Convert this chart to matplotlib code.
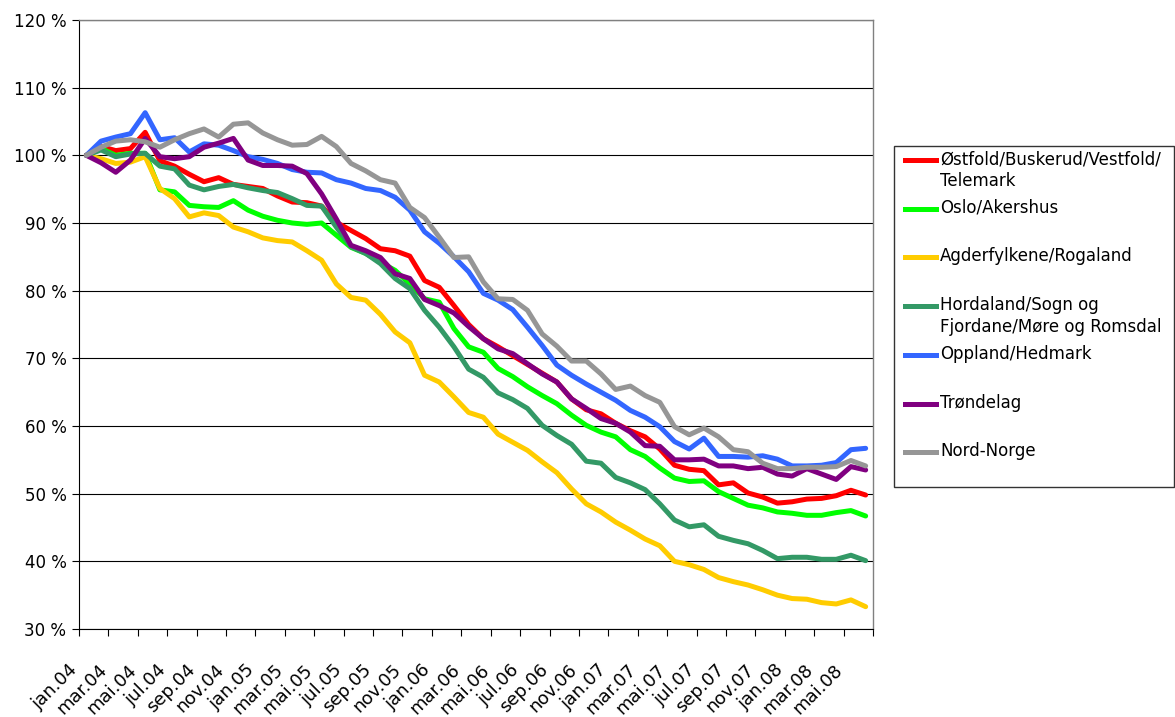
import numpy as np
import matplotlib.pyplot as plt
from matplotlib.lines import Line2D
from matplotlib.patches import Rectangle
from matplotlib.transforms import ScaledTranslation

# x-akse: en etikett for annenhver maaned, jan.04 - mai.08
maaneder = ["jan.04", "mar.04", "mai.04", "jul.04", "sep.04", "nov.04",
            "jan.05", "mar.05", "mai.05", "jul.05", "sep.05", "nov.05",
            "jan.06", "mar.06", "mai.06", "jul.06", "sep.06", "nov.06",
            "jan.07", "mar.07", "mai.07", "jul.07", "sep.07", "nov.07",
            "jan.08", "mar.08", "mai.08"]

ostfold = [100, 101.3, 100.7, 101.0, 103.4, 99.2, 98.4, 97.2, 96.1, 96.7,
           95.7, 95.4, 95.1, 94.0, 93.1, 93.0, 92.5, 90.1, 88.9, 87.7,
           86.2, 85.9, 85.1, 81.5, 80.5, 77.8, 75.0, 72.9, 71.7, 70.4,
           69.1, 67.8, 66.5, 64.0, 62.4, 61.8, 60.4, 59.3, 58.4, 56.6,
           54.2, 53.6, 53.4, 51.3, 51.6, 50.1, 49.5, 48.6, 48.8, 49.2,
           49.3, 49.7, 50.5, 49.8]
oslo = [100, 101.0, 100.0, 100.3, 100.3, 94.9, 94.6, 92.6, 92.4, 92.3,
        93.3, 91.9, 91.0, 90.4, 90.0, 89.8, 90.0, 88.2, 86.4, 85.5,
        84.2, 83.0, 81.0, 78.8, 78.3, 74.4, 71.7, 70.9, 68.5, 67.3,
        65.8, 64.5, 63.3, 61.6, 60.1, 59.1, 58.4, 56.5, 55.5, 53.8,
        52.3, 51.8, 51.9, 50.3, 49.3, 48.3, 47.9, 47.3, 47.1, 46.8,
        46.8, 47.2, 47.5, 46.7]
agder = [100, 99.5, 98.8, 99.0, 99.8, 95.1, 93.6, 90.9, 91.5, 91.1,
         89.4, 88.7, 87.8, 87.4, 87.2, 85.9, 84.5, 81.0, 79.0, 78.6,
         76.5, 73.9, 72.3, 67.5, 66.5, 64.3, 62.0, 61.3, 58.8, 57.6,
         56.4, 54.7, 53.1, 50.7, 48.5, 47.3, 45.8, 44.6, 43.3, 42.3,
         40.0, 39.5, 38.8, 37.6, 37.0, 36.5, 35.8, 35.0, 34.5, 34.4,
         33.9, 33.7, 34.3, 33.3]
hordaland = [100, 100.8, 99.8, 100.2, 100.3, 98.4, 98.0, 95.6, 94.9, 95.4,
             95.7, 95.2, 94.8, 94.5, 93.6, 92.6, 92.5, 89.4, 86.5, 85.5,
             84.0, 81.8, 80.3, 77.1, 74.6, 71.7, 68.4, 67.2, 64.9, 63.9,
             62.6, 60.1, 58.6, 57.3, 54.8, 54.5, 52.4, 51.6, 50.6, 48.5,
             46.1, 45.1, 45.4, 43.7, 43.1, 42.6, 41.6, 40.4, 40.6, 40.6,
             40.3, 40.3, 40.9, 40.1]
oppland = [100, 102.1, 102.7, 103.2, 106.3, 102.3, 102.6, 100.5, 101.7, 101.5,
           100.7, 99.8, 99.4, 98.8, 97.9, 97.5, 97.4, 96.4, 95.9, 95.1,
           94.8, 93.8, 91.9, 88.7, 87.0, 85.0, 82.8, 79.6, 78.6, 77.2,
           74.6, 71.9, 69.0, 67.5, 66.2, 65.0, 63.8, 62.3, 61.3, 59.9,
           57.7, 56.6, 58.2, 55.5, 55.5, 55.4, 55.6, 55.1, 54.1, 54.1,
           54.2, 54.6, 56.5, 56.7]
trondelag = [100, 98.9, 97.5, 99.3, 102.5, 99.8, 99.5, 99.8, 101.2, 101.8,
             102.5, 99.3, 98.5, 98.5, 98.4, 97.3, 94.3, 90.6, 86.7, 85.9,
             84.9, 82.5, 81.8, 78.7, 77.8, 76.7, 74.7, 72.9, 71.4, 70.7,
             69.2, 67.7, 66.5, 64.0, 62.6, 61.1, 60.4, 59.1, 57.1, 57.0,
             55.0, 55.0, 55.1, 54.1, 54.1, 53.7, 53.9, 52.9, 52.6, 53.7,
             52.9, 52.1, 54.0, 53.5]
nordnorge = [100, 101.2, 102.1, 102.3, 102.0, 101.2, 102.3, 103.2, 103.9, 102.7,
             104.6, 104.8, 103.3, 102.3, 101.5, 101.6, 102.8, 101.3, 98.8, 97.7,
             96.4, 95.9, 92.3, 90.8, 87.9, 84.9, 85.0, 81.3, 78.8, 78.7,
             77.1, 73.6, 71.8, 69.6, 69.6, 67.7, 65.4, 65.9, 64.5, 63.5,
             59.9, 58.7, 59.7, 58.4, 56.5, 56.2, 54.5, 53.7, 53.7, 53.9,
             53.9, 54.0, 54.9, 54.1]

navn = ["Østfold/Buskerud/Vestfold/\nTelemark", "Oslo/Akershus",
        "Agderfylkene/Rogaland", "Hordaland/Sogn og\nFjordane/Møre og Romsdal",
        "Oppland/Hedmark", "Trøndelag", "Nord-Norge"]
serier = [ostfold, oslo, agder, hordaland, oppland, trondelag, nordnorge]
farger = ["#FF0000", "#00FF00", "#FFCC00", "#339966", "#3366FF", "#800080", "#969696"]

W, H = 1175, 717
fig = plt.figure(figsize=(W / 100, H / 100), dpi=100)
ax = fig.add_axes([79 / W, 1 - 629 / H, 794 / W, 609 / H])

for vals, col in zip(serier, farger):
    ax.plot(np.arange(len(vals)), vals, color=col, lw=3.6, solid_joinstyle='round',
            solid_capstyle='round', zorder=3)

ax.set_xlim(-0.5, 53.5)
ax.set_ylim(30, 120)
ax.set_yticks(range(30, 121, 10))
ax.set_yticklabels([f"{v} %" for v in range(30, 121, 10)], fontsize=12)
ax.yaxis.grid(True, color='black', lw=0.8)
ax.set_axisbelow(True)

ax.set_xticks(np.arange(0, 54, 2))
ax.set_xticklabels(maaneder, rotation=45, ha='right', rotation_mode='anchor', fontsize=13)
ax.set_xticks(np.arange(-0.5, 54, 2), minor=True)
ax.tick_params(axis='x', which='major', length=0, pad=23)
ax.tick_params(axis='x', which='minor', length=5, width=0.8, direction='out')
ax.tick_params(axis='y', length=5, width=0.8, direction='out', pad=4)
for lab in ax.get_xticklabels():
    lab.set_transform(lab.get_transform() + ScaledTranslation(-0.18, 0, fig.dpi_scale_trans))

for side in ['left', 'bottom']:
    ax.spines[side].set_color('black')
    ax.spines[side].set_linewidth(0.8)
for side in ['right', 'top']:
    ax.spines[side].set_color('#808080')
    ax.spines[side].set_linewidth(1.0)

# tegnforklaring
fig.add_artist(Rectangle((894 / W, 1 - 487 / H), (1174 - 894) / W, (487 - 146) / H,
                         transform=fig.transFigure, fill=False, ec='#333333', lw=1))
for k, (n, col) in enumerate(zip(navn, farger)):
    yk = 160 + 48.7 * k
    fig.add_artist(Line2D([905 / W, 936 / W], [1 - yk / H] * 2, transform=fig.transFigure,
                          color=col, lw=3.6))
    fig.text(940 / W, 1 - (yk - 10) / H, n, va='top', ha='left', fontsize=12, linespacing=1.3)

fig.savefig("out.png", dpi=100)
